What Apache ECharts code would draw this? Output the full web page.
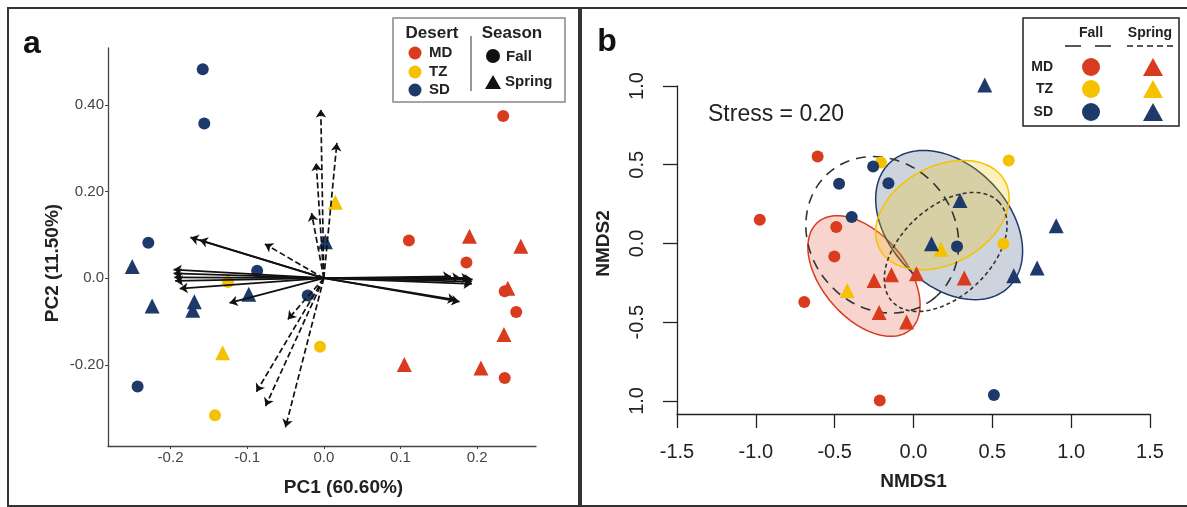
<!DOCTYPE html>
<html>
<head>
<meta charset="utf-8">
<script src="https://cdn.jsdelivr.net/npm/echarts@6/dist/echarts.min.js"></script>
<style>
  html, body { margin: 0; padding: 0; background: #fff; }
  #chart { width: 1187px; height: 507px; }
</style>
</head>
<body>
<div id="chart"></div>
<script>
// ---- panel a: PCA scores [PC1, PC2] ----
var pcaMdFall = [[0.234, 0.374], [0.111, 0.087], [0.186, 0.036], [0.236, -0.030], [0.251, -0.078], [0.236, -0.230]];
var pcaMdSpring = [[0.190, 0.097], [0.257, 0.074], [0.240, -0.023], [0.235, -0.130], [0.105, -0.199], [0.205, -0.207]];
var pcaTzFall = [[-0.125, -0.009], [-0.005, -0.158], [-0.142, -0.316]];
var pcaTzSpring = [[-0.132, -0.172], [0.015, 0.175]];
var pcaSdFall = [[-0.158, 0.482], [-0.156, 0.357], [-0.229, 0.082], [-0.087, 0.017], [-0.021, -0.040], [-0.243, -0.250]];
var pcaSdSpring = [[-0.250, 0.027], [-0.224, -0.064], [-0.169, -0.054], [-0.171, -0.074], [-0.098, -0.037], [0.002, 0.084]];

// loading vectors (arrow tips), drawn from the origin
var pcaOrigin = [0, 0];
var loadSolid = [[-0.174, 0.094], [-0.162, 0.088], [-0.196, 0.020], [-0.196, 0.011], [-0.195, 0.002],
  [-0.194, -0.006], [-0.188, -0.024], [-0.123, -0.057], [0.166, 0.004], [0.178, 0.001], [0.190, 0.000],
  [0.194, -0.003], [0.193, -0.008], [0.193, -0.013], [0.177, -0.054], [0.172, -0.050]];
var loadDashed = [[-0.004, 0.389], [0.017, 0.312], [-0.010, 0.266], [-0.016, 0.150], [-0.077, 0.079],
  [-0.047, -0.095], [-0.088, -0.262], [-0.076, -0.295], [-0.050, -0.344]];

var pcaXTicks = [-0.2, -0.1, 0, 0.1, 0.2];
var pcaXLabels = ['-0.2', '-0.1', '0.0', '0.1', '0.2'];
var pcaYTicks = [-0.2, 0, 0.2, 0.4];
var pcaYLabels = ['-0.20', '0.0', '0.20', '0.40'];

// ---- panel b: NMDS scores [NMDS1, NMDS2] ----
var nmdsMdFall = [[-0.608, 0.552], [-0.975, 0.150], [-0.490, 0.104], [-0.502, -0.083], [-0.693, -0.372], [-0.214, -0.997]];
var nmdsMdSpring = [[-0.250, -0.235], [-0.140, -0.199], [0.019, -0.192], [0.322, -0.220], [-0.218, -0.438], [-0.044, -0.499]];
var nmdsTzFall = [[-0.207, 0.514], [0.604, 0.527], [0.570, -0.002]];
var nmdsTzSpring = [[-0.420, -0.298], [0.174, -0.036]];
var nmdsSdFall = [[-0.256, 0.489], [-0.472, 0.379], [-0.159, 0.383], [-0.392, 0.168], [0.276, -0.019], [0.510, -0.963]];
var nmdsSdSpring = [[0.452, 1.006], [0.295, 0.273], [0.114, -0.002], [0.905, 0.112], [0.784, -0.156], [0.636, -0.205]];

// ellipses: [centre x, centre y, semi-major, semi-minor, angle in degrees]
var ellMd = [-0.314, -0.207, 0.450, 0.266, -49.4];
var ellSd = [0.226, 0.117, 0.546, 0.379, -46.4];
var ellTz = [0.183, 0.180, 0.452, 0.309, 28.8];
var ellFall = [-0.198, 0.055, 0.520, 0.460, -50.8];
var ellSpring = [0.204, -0.054, 0.463, 0.283, 43.1];

var nmdsXTicks = [-1.5, -1.0, -0.5, 0, 0.5, 1.0, 1.5];
var nmdsXLabels = ['-1.5', '-1.0', '-0.5', '0.0', '0.5', '1.0', '1.5'];
var nmdsYTicks = [-1.0, -0.5, 0, 0.5, 1.0];
var nmdsYLabels = ['1.0', '-0.5', '0.0', '0.5', '1.0'];

var RED = '#d93b1f', YEL = '#f6c200', NAVY = '#1d3a6a';
var FONT = '"Liberation Sans", Arial, sans-serif';

function tickLabel(ticks, labels) {
  return function (v) {
    for (var i = 0; i < ticks.length; i++) {
      if (Math.abs(ticks[i] - v) < 1e-9) return labels[i];
    }
    return '';
  };
}

function pts(name, data, color, shape, size, idx) {
  return {
    name: name, type: 'scatter', xAxisIndex: idx, yAxisIndex: idx,
    data: data, symbol: shape, symbolSize: size, clip: false, silent: true,
    itemStyle: {color: color, opacity: 1}, z: 5,
  };
}

function arrows(data, dashed) {
  return {
    type: 'lines', coordinateSystem: 'cartesian2d', xAxisIndex: 0, yAxisIndex: 0,
    symbol: ['none', 'arrow'], symbolSize: 8, silent: true, z: 6,
    lineStyle: {color: '#111', width: dashed ? 1.7 : 1.8, type: dashed ? [6, 3] : 'solid', opacity: 1},
    data: data.map(function (p) { return {coords: [pcaOrigin, p]}; }),
  };
}

function ellipse(name, params, style, z) {
  return {
    name: name, type: 'custom', xAxisIndex: 1, yAxisIndex: 1, clip: false, silent: true, z: z,
    encode: {x: 0, y: 1},
    data: [params],
    renderItem: function (p, api) {
      var cx = api.value(0), cy = api.value(1), a = api.value(2), b = api.value(3);
      var ang = api.value(4) * Math.PI / 180;
      var poly = [];
      for (var i = 0; i < 120; i++) {
        var t = i / 120 * 2 * Math.PI;
        var dx = a * Math.cos(t), dy = b * Math.sin(t);
        poly.push(api.coord([cx + dx * Math.cos(ang) - dy * Math.sin(ang),
                             cy + dx * Math.sin(ang) + dy * Math.cos(ang)]));
      }
      return {type: 'polygon', shape: {points: poly}, style: style};
    },
  };
}

var chart = echarts.init(document.getElementById('chart'));

var options = {
  animation: false,
  textStyle: {fontFamily: FONT},
  grid: [
    {left: 108, right: 651, top: 48, bottom: 61},
    {left: 677, right: 37, top: 86, bottom: 93},
  ],
  xAxis: [
    {
      type: 'value', gridIndex: 0, min: -0.2816, max: 0.2768,
      name: 'PC1 (60.60%)', nameLocation: 'middle', nameGap: 32,
      nameTextStyle: {fontSize: 19, fontWeight: 'bold', color: '#222', padding: [0, 0, 0, 43]},
      axisLine: {onZero: false, lineStyle: {color: '#444', width: 1.3}},
      axisTick: {show: true, length: 3, customValues: pcaXTicks, lineStyle: {color: '#444'}},
      axisLabel: {customValues: pcaXTicks, formatter: tickLabel(pcaXTicks, pcaXLabels), color: '#444', fontSize: 15, margin: 4},
      splitLine: {show: false},
    },
    {
      type: 'value', gridIndex: 1, min: -1.5, max: 1.5, interval: 0.5,
      name: 'NMDS1', nameLocation: 'middle', nameGap: 58,
      nameTextStyle: {fontSize: 19, fontWeight: 'bold', color: '#222'},
      axisLine: {onZero: false, lineStyle: {color: '#222', width: 1.3}},
      axisTick: {show: true, length: 14, lineStyle: {color: '#222', width: 1.3}},
      axisLabel: {formatter: tickLabel(nmdsXTicks, nmdsXLabels), color: '#222', fontSize: 20, margin: 28, showMinLabel: true, showMaxLabel: true},
      splitLine: {show: false},
    },
  ],
  yAxis: [
    {
      type: 'value', gridIndex: 0, min: -0.387, max: 0.531,
      name: 'PC2 (11.50%)', nameLocation: 'middle', nameGap: 46, nameRotate: 90,
      nameTextStyle: {fontSize: 19, fontWeight: 'bold', color: '#222', padding: [0, 32, 0, 0]},
      axisLine: {show: true, onZero: false, lineStyle: {color: '#444', width: 1.3}},
      axisTick: {show: true, length: 3, customValues: pcaYTicks, lineStyle: {color: '#444'}},
      axisLabel: {customValues: pcaYTicks, formatter: tickLabel(pcaYTicks, pcaYLabels), color: '#444', fontSize: 15, margin: 4},
      splitLine: {show: false},
    },
    {
      type: 'value', gridIndex: 1, min: -1.083, max: 1.0,
      name: 'NMDS2', nameLocation: 'middle', nameGap: 64, nameRotate: 90,
      nameTextStyle: {fontSize: 19, fontWeight: 'bold', color: '#222', padding: [0, 0, 0, 13]},
      axisLine: {show: true, onZero: false, lineStyle: {color: '#222', width: 1.3}},
      axisTick: {show: true, length: 14, customValues: nmdsYTicks, lineStyle: {color: '#222', width: 1.3}},
      axisLabel: {customValues: nmdsYTicks, formatter: tickLabel(nmdsYTicks, nmdsYLabels), rotate: 90, color: '#222', fontSize: 20, margin: 30},
      splitLine: {show: false},
    },
  ],
  series: [
    // panel a
    pts('MD Fall', pcaMdFall, RED, 'circle', 12, 0),
    pts('MD Spring', pcaMdSpring, RED, 'triangle', 15, 0),
    pts('TZ Fall', pcaTzFall, YEL, 'circle', 12, 0),
    pts('TZ Spring', pcaTzSpring, YEL, 'triangle', 15, 0),
    pts('SD Fall', pcaSdFall, NAVY, 'circle', 12, 0),
    pts('SD Spring', pcaSdSpring, NAVY, 'triangle', 15, 0),
    arrows(loadSolid, false),
    arrows(loadDashed, true),
    // panel b
    ellipse('MD', ellMd, {fill: 'rgba(217,59,31,0.22)', stroke: RED, lineWidth: 1.5}, 2),
    ellipse('SD', ellSd, {fill: 'rgba(29,58,106,0.22)', stroke: NAVY, lineWidth: 1.5}, 2),
    ellipse('TZ', ellTz, {fill: 'rgba(246,194,0,0.25)', stroke: YEL, lineWidth: 1.5}, 2),
    ellipse('Fall', ellFall, {fill: 'none', stroke: '#333', lineWidth: 1.6, lineDash: [10, 7]}, 3),
    ellipse('Spring', ellSpring, {fill: 'none', stroke: '#333', lineWidth: 1.6, lineDash: [4, 3]}, 3),
    pts('MD Fall', nmdsMdFall, RED, 'circle', 12, 1),
    pts('MD Spring', nmdsMdSpring, RED, 'triangle', 15, 1),
    pts('TZ Fall', nmdsTzFall, YEL, 'circle', 12, 1),
    pts('TZ Spring', nmdsTzSpring, YEL, 'triangle', 15, 1),
    pts('SD Fall', nmdsSdFall, NAVY, 'circle', 12, 1),
    pts('SD Spring', nmdsSdSpring, NAVY, 'triangle', 15, 1),
  ],
  graphic: [
    // panel frames
    {type: 'rect', shape: {x: 8, y: 8, width: 571, height: 498}, style: {fill: 'none', stroke: '#333', lineWidth: 2}},
    {type: 'rect', shape: {x: 581, y: 8, width: 610, height: 498}, style: {fill: 'none', stroke: '#333', lineWidth: 2}},
    {type: 'text', x: 32, y: 44, style: {text: 'a', font: 'bold 32px ' + FONT, fill: '#111', align: 'center', verticalAlign: 'middle'}},
    {type: 'text', x: 607, y: 42, style: {text: 'b', font: 'bold 32px ' + FONT, fill: '#111', align: 'center', verticalAlign: 'middle'}},
    {type: 'text', x: 708, y: 115, style: {text: 'Stress = 0.20', font: '23px ' + FONT, fill: '#222', align: 'left', verticalAlign: 'middle'}},

    // legend of panel a
    {type: 'rect', shape: {x: 393, y: 18, width: 172, height: 84}, style: {fill: '#fff', stroke: '#888', lineWidth: 1.5}, z: 10},
    {type: 'text', x: 432, y: 33, z: 11, style: {text: 'Desert', font: 'bold 17px ' + FONT, fill: '#222', align: 'center', verticalAlign: 'middle'}},
    {type: 'text', x: 512, y: 33, z: 11, style: {text: 'Season', font: 'bold 17px ' + FONT, fill: '#222', align: 'center', verticalAlign: 'middle'}},
    {type: 'line', z: 11, shape: {x1: 471, y1: 36, x2: 471, y2: 91}, style: {stroke: '#555', lineWidth: 1.2}},
    {type: 'circle', z: 11, shape: {cx: 415, cy: 53, r: 6.5}, style: {fill: RED}},
    {type: 'circle', z: 11, shape: {cx: 415, cy: 72, r: 6.5}, style: {fill: YEL}},
    {type: 'circle', z: 11, shape: {cx: 415, cy: 90, r: 6.5}, style: {fill: NAVY}},
    {type: 'text', x: 429, y: 53, z: 11, style: {text: 'MD', font: 'bold 15px ' + FONT, fill: '#222', verticalAlign: 'middle'}},
    {type: 'text', x: 429, y: 72, z: 11, style: {text: 'TZ', font: 'bold 15px ' + FONT, fill: '#222', verticalAlign: 'middle'}},
    {type: 'text', x: 429, y: 90, z: 11, style: {text: 'SD', font: 'bold 15px ' + FONT, fill: '#222', verticalAlign: 'middle'}},
    {type: 'circle', z: 11, shape: {cx: 493, cy: 56, r: 7}, style: {fill: '#111'}},
    {type: 'polygon', z: 11, shape: {points: [[493, 75], [501, 89], [485, 89]]}, style: {fill: '#111'}},
    {type: 'text', x: 506, y: 57, z: 11, style: {text: 'Fall', font: 'bold 15px ' + FONT, fill: '#222', verticalAlign: 'middle'}},
    {type: 'text', x: 505, y: 82, z: 11, style: {text: 'Spring', font: 'bold 15px ' + FONT, fill: '#222', verticalAlign: 'middle'}},

    // legend of panel b
    {type: 'rect', shape: {x: 1023, y: 18, width: 156, height: 108}, style: {fill: '#fff', stroke: '#222', lineWidth: 1.5}, z: 10},
    {type: 'text', x: 1091, y: 33, z: 11, style: {text: 'Fall', font: 'bold 14px ' + FONT, fill: '#222', align: 'center', verticalAlign: 'middle'}},
    {type: 'text', x: 1150, y: 33, z: 11, style: {text: 'Spring', font: 'bold 14px ' + FONT, fill: '#222', align: 'center', verticalAlign: 'middle'}},
    {type: 'line', z: 11, shape: {x1: 1065, y1: 46, x2: 1111, y2: 46}, style: {stroke: '#222', lineWidth: 1.5, lineDash: [16, 14]}},
    {type: 'line', z: 11, shape: {x1: 1127, y1: 46, x2: 1174, y2: 46}, style: {stroke: '#222', lineWidth: 1.5, lineDash: [6, 4]}},
    {type: 'text', x: 1053, y: 67, z: 11, style: {text: 'MD', font: 'bold 14px ' + FONT, fill: '#222', align: 'right', verticalAlign: 'middle'}},
    {type: 'text', x: 1053, y: 89, z: 11, style: {text: 'TZ', font: 'bold 14px ' + FONT, fill: '#222', align: 'right', verticalAlign: 'middle'}},
    {type: 'text', x: 1053, y: 112, z: 11, style: {text: 'SD', font: 'bold 14px ' + FONT, fill: '#222', align: 'right', verticalAlign: 'middle'}},
    {type: 'circle', z: 11, shape: {cx: 1091, cy: 67, r: 9}, style: {fill: RED}},
    {type: 'circle', z: 11, shape: {cx: 1091, cy: 89, r: 9}, style: {fill: YEL}},
    {type: 'circle', z: 11, shape: {cx: 1091, cy: 112, r: 9}, style: {fill: NAVY}},
    {type: 'polygon', z: 11, shape: {points: [[1153, 58], [1163, 76], [1143, 76]]}, style: {fill: RED}},
    {type: 'polygon', z: 11, shape: {points: [[1153, 80], [1163, 98], [1143, 98]]}, style: {fill: YEL}},
    {type: 'polygon', z: 11, shape: {points: [[1153, 103], [1163, 121], [1143, 121]]}, style: {fill: NAVY}},
  ],
};

chart.setOption(options);
</script>
</body>
</html>
